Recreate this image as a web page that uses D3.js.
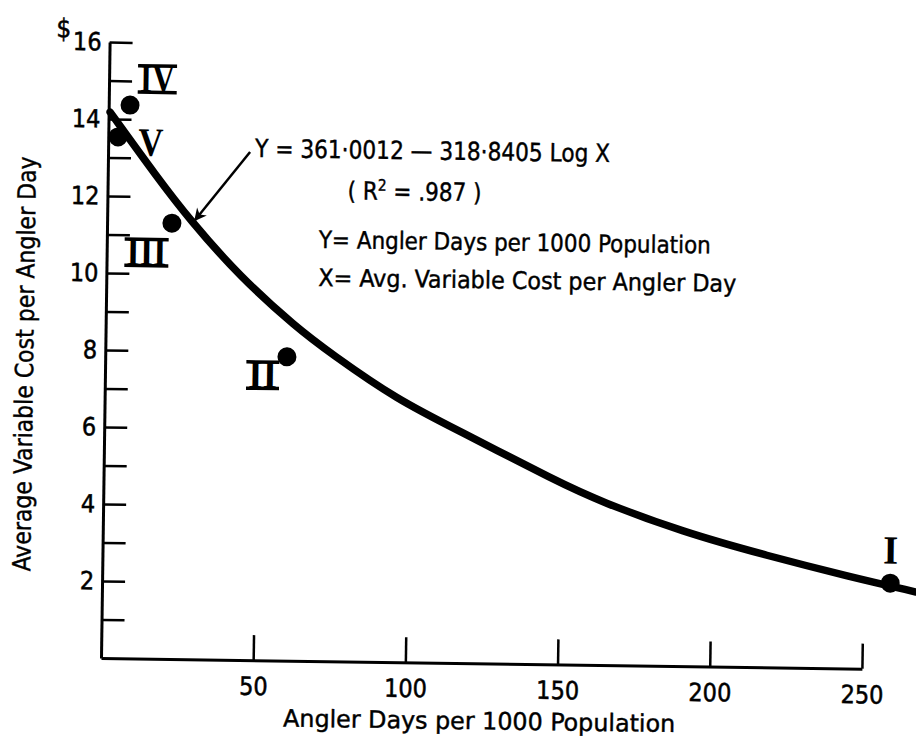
<!DOCTYPE html>
<html>
<head>
<meta charset="utf-8">
<script src="https://cdn.jsdelivr.net/npm/d3@7"></script>
<style>
  body { margin: 0; background: #fff; }
  svg { display: block; }
</style>
</head>
<body>
<div id="chart"></div>
<script>
// fitted curve (angler days, cost $)
var curveDays = [0.5, 16.2, 27.2, 43.9, 62.9, 73.8, 96.1, 117.9, 149.0, 163.2, 190.6, 218.3, 245.7, 267.4];
var curveCost = [14.18, 12.51, 11.41, 9.95, 8.64, 8.01, 6.81, 5.98, 4.75, 4.25, 3.48, 2.90, 2.38, 2.01];

// observed regions
var regionNames = ['IV', 'V', 'III', 'II', 'I'];
var regionDays = [7.0, 3.2, 21.3, 59.7, 258.9];
var regionCost = [14.37, 13.54, 11.32, 7.89, 2.23];

var xTicks = [50, 100, 150, 200, 250];
var yTicks = [1, 2, 3, 4, 5, 6, 7, 8, 9, 10, 11, 12, 13, 14, 15, 16];
var yTickLabels = ['', '2', '', '4', '', '6', '', '8', '', '10', '', '12', '', '14', '', '16'];

var xTitle = 'Angler Days per 1000 Population';
var yTitle = 'Average Variable Cost per Angler Day';
var eqText = 'Y = 361·0012 — 318·8405 Log X';
var defY = 'Y= Angler Days per 1000 Population';
var defX = 'X= Avg. Variable Cost per Angler Day';

// layout only: label offset from each dot, and label width
var labelDx = [27, 33, -25, -24, 0];
var labelDy = [-26, 6, 30, 19, -32];
var labelW = [35, 25, 40, 29, 15];

var width = 916, height = 743;
var font = "'DejaVu Sans Condensed', 'Liberation Sans Narrow', 'DejaVu Sans', sans-serif";

var svg = d3.select('#chart').append('svg')
   .attr('width', width)
   .attr('height', height)
   .style('background', '#fff');

// the scanned page sits slightly tilted
var g = svg.append('g')
   .attr('transform', 'rotate(0.8,101,658)');

var x = d3.scaleLinear().domain([0, 250]).range([101, 862]);
var y = d3.scaleLinear().domain([0, 16]).range([658, 42]);

// y axis, ticks pointing inward
var yAxis = g.append('g')
   .attr('transform', 'translate(101,0)')
   .call(d3.axisLeft(y)
      .tickValues(yTicks)
      .tickSize(-23)
      .tickSizeOuter(0)
      .tickPadding(8)
      .tickFormat(function(d, i) { return yTickLabels[i]; }));

var xAxis = g.append('g')
   .attr('transform', 'translate(0,658)')
   .call(d3.axisBottom(x)
      .tickValues(xTicks)
      .tickSize(-25)
      .tickSizeOuter(0)
      .tickPadding(17));

[yAxis, xAxis].forEach(function(ax) {
   ax.attr('font-family', font).attr('font-size', 25);
   ax.select('.domain').attr('stroke', '#000').attr('stroke-width', 3);
   ax.selectAll('.tick line').attr('stroke', '#000').attr('stroke-width', 2.5);
   ax.selectAll('.tick text')
      .attr('fill', '#000')
      .attr('stroke', '#000')
      .attr('stroke-width', 0.5);
});

g.append('text')
   .attr('x', 55)
   .attr('y', 38)
   .attr('text-anchor', 'middle')
   .attr('font-family', font)
   .attr('font-size', 26)
   .attr('stroke', '#000')
   .attr('stroke-width', 0.5)
   .text('$');

// axis titles
g.append('text')
   .attr('x', 480)
   .attr('y', 724)
   .attr('text-anchor', 'middle')
   .attr('font-family', font)
   .attr('font-size', 24)
   .attr('stroke', '#000')
   .attr('stroke-width', 0.4)
   .attr('textLength', 392)
   .attr('lengthAdjust', 'spacingAndGlyphs')
   .text(xTitle);

g.append('text')
   .attr('transform', 'translate(29,365) rotate(-90)')
   .attr('text-anchor', 'middle')
   .attr('font-family', font)
   .attr('font-size', 25)
   .attr('stroke', '#000')
   .attr('stroke-width', 0.4)
   .attr('textLength', 415)
   .attr('lengthAdjust', 'spacingAndGlyphs')
   .text(yTitle);

// regression curve
var curve = curveDays.map(function(d, i) { return { days: d, cost: curveCost[i] }; });

var line = d3.line()
   .x(function(d) { return x(d.days); })
   .y(function(d) { return y(d.cost); })
   .curve(d3.curveBasis);

g.append('path')
   .datum(curve)
   .attr('fill', 'none')
   .attr('stroke', '#000')
   .attr('stroke-width', 7.5)
   .attr('stroke-linecap', 'round')
   .attr('d', line);

// region points
var regions = regionNames.map(function(n, i) {
   return { name: n, days: regionDays[i], cost: regionCost[i], dx: labelDx[i], dy: labelDy[i], w: labelW[i] };
});

g.selectAll('.region')
   .data(regions)
   .enter().append('circle')
   .attr('class', 'region')
   .attr('cx', function(d) { return x(d.days); })
   .attr('cy', function(d) { return y(d.cost); })
   .attr('r', 9.5)
   .attr('fill', '#000');

var numSize = 40, capH = numSize * 0.62;

var labels = g.selectAll('.numeral')
   .data(regions)
   .enter().append('g')
   .attr('class', 'numeral')
   .attr('transform', function(d) {
      return 'translate(' + (x(d.days) + d.dx) + ',' + (y(d.cost) + d.dy) + ')';
   });

labels.append('text')
   .attr('y', capH / 2)
   .attr('text-anchor', 'middle')
   .attr('font-family', "'Liberation Serif', 'DejaVu Serif', serif")
   .attr('font-weight', 'bold')
   .attr('font-size', numSize)
   .attr('textLength', function(d) { return d.w; })
   .attr('lengthAdjust', 'spacingAndGlyphs')
   .text(function(d) { return d.name; });

// the numerals II, III, IV are set with full-width bars top and bottom
labels.filter(function(d) { return d.name.length > 1; })
   .each(function(d) {
      var sel = d3.select(this);
      [-capH / 2 - 1, capH / 2 + 0.5].forEach(function(yy) {
         sel.append('line')
            .attr('x1', -d.w / 2 - 2)
            .attr('x2', d.w / 2 + 2)
            .attr('y1', yy)
            .attr('y2', yy)
            .attr('stroke', '#000')
            .attr('stroke-width', 3.5);
      });
   });

// equation and its pointer
var defs = svg.append('defs');
defs.append('marker')
   .attr('id', 'head')
   .attr('viewBox', '0 0 10 10')
   .attr('refX', 10)
   .attr('refY', 5)
   .attr('markerWidth', 7)
   .attr('markerHeight', 5)
   .attr('markerUnits', 'strokeWidth')
   .attr('orient', 'auto')
   .append('path')
   .attr('d', 'M0,0L10,5L0,10L3,5Z')
   .attr('fill', '#000');

g.append('line')
   .attr('x1', 243)
   .attr('y1', 150)
   .attr('x2', 188)
   .attr('y2', 220)
   .attr('stroke', '#000')
   .attr('stroke-width', 2.5)
   .attr('marker-end', 'url(#head)');

g.append('text')
   .attr('x', 248)
   .attr('y', 155)
   .attr('font-family', font)
   .attr('font-size', 25)
   .attr('stroke', '#000')
   .attr('stroke-width', 0.4)
   .attr('textLength', 355)
   .attr('lengthAdjust', 'spacingAndGlyphs')
   .text(eqText);

var r2 = g.append('text')
   .attr('x', 341)
   .attr('y', 196)
   .attr('font-family', font)
   .attr('font-size', 25)
   .attr('stroke', '#000')
   .attr('stroke-width', 0.4)
   .attr('textLength', 134)
   .attr('lengthAdjust', 'spacingAndGlyphs');
r2.append('tspan').text('( R');
r2.append('tspan').attr('baseline-shift', 'super').attr('font-size', 16).text('2');
r2.append('tspan').text(' = .987 )');

g.append('text')
   .attr('x', 313)
   .attr('y', 245)
   .attr('font-family', font)
   .attr('font-size', 24)
   .attr('stroke', '#000')
   .attr('stroke-width', 0.4)
   .attr('textLength', 392)
   .attr('lengthAdjust', 'spacingAndGlyphs')
   .text(defY);

g.append('text')
   .attr('x', 313)
   .attr('y', 283)
   .attr('font-family', font)
   .attr('font-size', 24)
   .attr('stroke', '#000')
   .attr('stroke-width', 0.4)
   .attr('textLength', 418)
   .attr('lengthAdjust', 'spacingAndGlyphs')
   .text(defX);
</script>
</body>
</html>
